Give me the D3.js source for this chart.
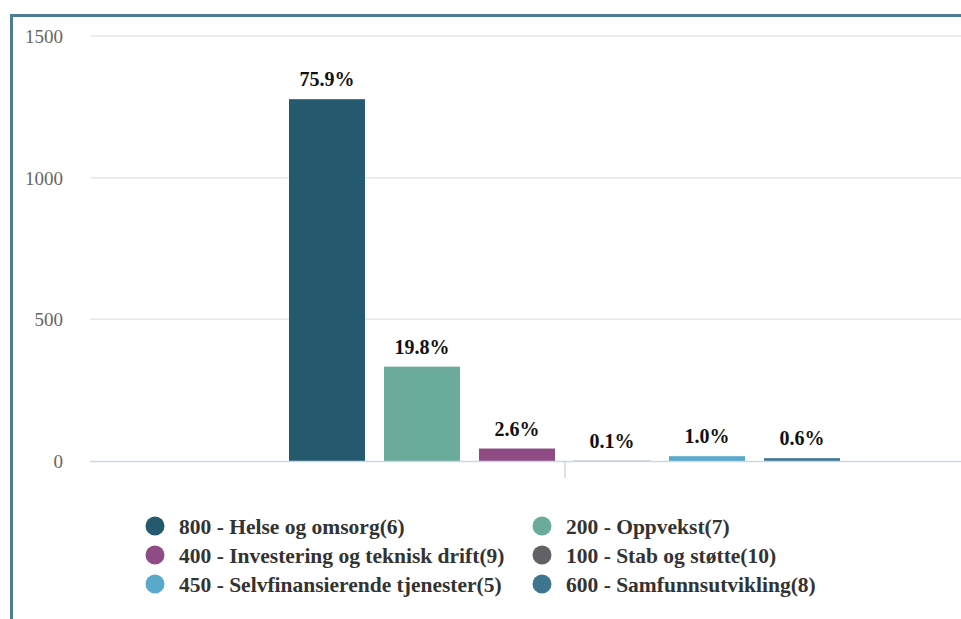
<!DOCTYPE html>
<html>
<head>
<meta charset="utf-8">
<script src="https://cdn.jsdelivr.net/npm/d3@7"></script>
<style>
	body { margin: 0; background: #fff; }
	svg { display: block; }
</style>
</head>
<body>
<div id="chart-area"></div>
<script>
// Chart data
let series = ["800 - Helse og omsorg(6)", "200 - Oppvekst(7)", "400 - Investering og teknisk drift(9)",
	"100 - Stab og støtte(10)", "450 - Selvfinansierende tjenester(5)", "600 - Samfunnsutvikling(8)"];
let values = [1277, 333, 44, 1, 17, 10];
let percentLabels = ["75.9%", "19.8%", "2.6%", "0.1%", "1.0%", "0.6%"];
let colors = ["#255a6e", "#6aab9c", "#8e4b84", "#636066", "#5aa9cb", "#3e7692"];
let yTicks = [0, 500, 1000, 1500];

let serif = "'Liberation Serif'";

// SVG size
let width = 961,
	height = 619;

let svg = d3.select("#chart-area")
	.append("svg")
	.attr("width", width)
	.attr("height", height);

svg.append("rect")
	.attr("width", width)
	.attr("height", height)
	.attr("fill", "#ffffff");

// Frame (left and top border)
svg.append("path")
	.attr("d", "M11.5," + height + "V15.5H" + width)
	.attr("fill", "none")
	.attr("stroke", "#4d7c96")
	.attr("stroke-width", 3);

// Scales
let plotLeft = 90;
let y = d3.scaleLinear()
	.domain([0, 1500])
	.range([461, 36]);

let x = d3.scaleBand()
	.domain(series)
	.range([279.5, 849.5])
	.paddingInner(0.2)
	.paddingOuter(0.1);

// Gridlines
svg.append("g")
	.selectAll("line")
	.data(yTicks.filter(d => d > 0))
	.enter()
	.append("line")
	.attr("x1", plotLeft)
	.attr("x2", width)
	.attr("y1", d => y(d))
	.attr("y2", d => y(d))
	.attr("stroke", "#e6e6e6")
	.attr("stroke-width", 1.5);

// Y axis labels
let yAxis = d3.axisLeft(y)
	.tickValues(yTicks)
	.tickFormat(d3.format("d"))
	.tickSize(0)
	.tickPadding(0);

let yGroup = svg.append("g")
	.attr("transform", "translate(63,0)")
	.call(yAxis);
yGroup.select(".domain").remove();
yGroup.selectAll("text")
	.style("font-family", serif)
	.attr("font-size", 19)
	.attr("fill", "#666666")
	.attr("dy", "0.35em");

// Bars
svg.append("g")
	.selectAll("rect")
	.data(series)
	.enter()
	.append("rect")
	.attr("x", d => x(d))
	.attr("width", x.bandwidth())
	.attr("y", (d, i) => y(values[i]))
	.attr("height", (d, i) => y(0) - y(values[i]))
	.attr("fill", (d, i) => colors[i]);

// X axis line and category tick
svg.append("line")
	.attr("x1", plotLeft)
	.attr("x2", width)
	.attr("y1", y(0) + 0.5)
	.attr("y2", y(0) + 0.5)
	.attr("stroke", "#ccd6eb")
	.attr("stroke-width", 1.5);

svg.append("line")
	.attr("x1", 565)
	.attr("x2", 565)
	.attr("y1", y(0))
	.attr("y2", y(0) + 17)
	.attr("stroke", "#ccd6eb")
	.attr("stroke-width", 1.5);

// Data labels
svg.append("g")
	.selectAll("text")
	.data(series)
	.enter()
	.append("text")
	.attr("x", d => x(d) + x.bandwidth() / 2)
	.attr("y", (d, i) => y(values[i]) - 13)
	.attr("text-anchor", "middle")
	.style("font-family", serif)
	.attr("font-weight", "bold")
	.attr("font-size", 20)
	.attr("fill", "#111111")
	.text((d, i) => percentLabels[i]);

// Legend
let legendCols = [155, 542];
let legendRows = [526, 555, 584];
let legend = svg.append("g")
	.selectAll("g")
	.data(series)
	.enter()
	.append("g")
	.attr("transform", (d, i) => "translate(" + legendCols[i % 2] + "," + legendRows[Math.floor(i / 2)] + ")");

legend.append("circle")
	.attr("r", 9.5)
	.attr("fill", (d, i) => colors[i]);

legend.append("text")
	.attr("x", 24)
	.attr("dy", "0.35em")
	.style("font-family", serif)
	.attr("font-weight", "bold")
	.attr("font-size", 21.5)
	.attr("fill", "#333333")
	.text(d => d);
</script>
</body>
</html>
